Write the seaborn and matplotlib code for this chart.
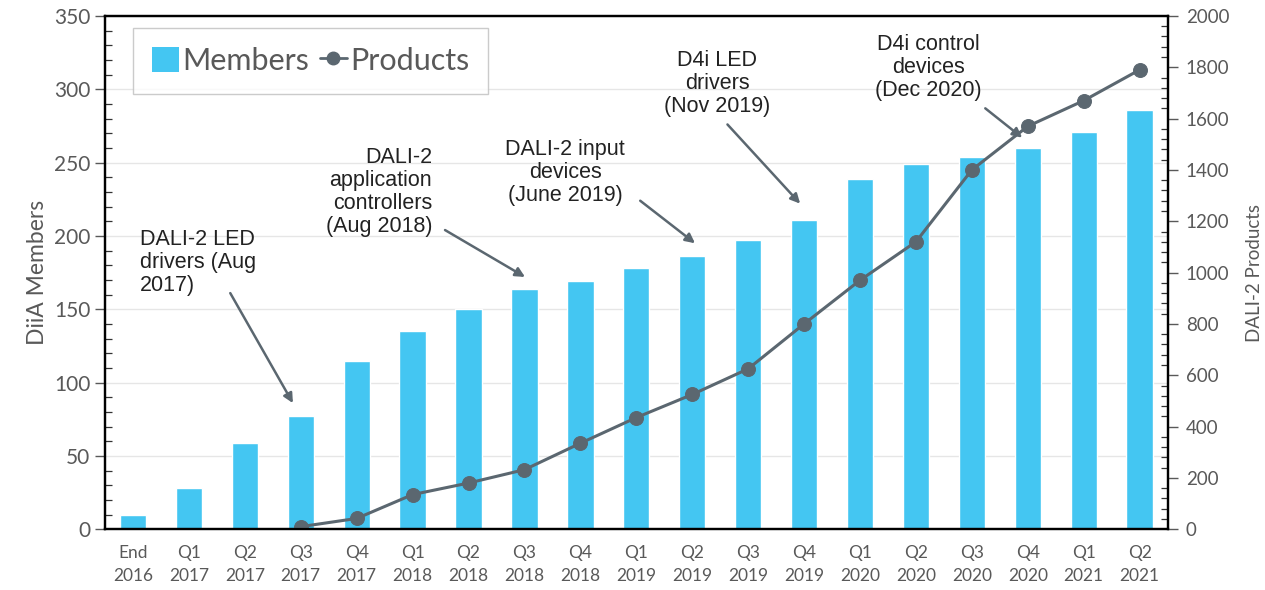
import pandas as pd
import numpy as np
import seaborn as sns
import matplotlib.pyplot as plt
from matplotlib.patches import Patch
from matplotlib.lines import Line2D
from matplotlib.ticker import MultipleLocator

# data
quarters = ["End\n2016", "Q1\n2017", "Q2\n2017", "Q3\n2017", "Q4\n2017",
            "Q1\n2018", "Q2\n2018", "Q3\n2018", "Q4\n2018",
            "Q1\n2019", "Q2\n2019", "Q3\n2019", "Q4\n2019",
            "Q1\n2020", "Q2\n2020", "Q3\n2020", "Q4\n2020",
            "Q1\n2021", "Q2\n2021"]
members = [10, 28, 59, 77, 115, 135, 150, 164, 169, 178, 186, 197, 211,
           239, 249, 254, 260, 271, 286]
product_quarters = quarters[3:]
products = [10, 42, 135, 180, 232, 335, 435, 525, 625, 800, 970, 1120,
            1400, 1570, 1670, 1790]

# annotations: text, text position (category idx, members units), arrow tail, arrow tip, alignment
notes = [
    ("DALI-2 LED\ndrivers (Aug\n2017)", (0.13, 182), (1.74, 161), (2.86, 86), "left"),
    ("DALI-2\napplication\ncontrollers\n(Aug 2018)", (5.35, 230), (5.58, 204), (7.01, 172), "right"),
    ("DALI-2 input\ndevices\n(June 2019)", (7.73, 243), (9.07, 224), (10.05, 195), "center"),
    ("D4i LED\ndrivers\n(Nov 2019)", (10.45, 304), (10.63, 276), (11.93, 222), "center"),
    ("D4i control\ndevices\n(Dec 2020)", (14.22, 315), (15.24, 287), (15.9, 267), "center"),
]

bar_color = "#44C6F2"
line_color = "#5B6770"
tick_color = "#595959"

sns.set_theme(style="white")
plt.rcParams['font.family'] = ['Lato', 'DejaVu Sans']

fig = plt.figure(figsize=(12.65, 5.9), dpi=100)
ax = fig.add_axes([0.083, 0.103, 0.840, 0.870])

df = pd.DataFrame({"quarter": quarters, "members": members})
sns.barplot(data=df, x="quarter", y="members", color=bar_color, saturation=1,
            width=0.47, ax=ax)

ax2 = ax.twinx()
pos = [quarters.index(q) for q in product_quarters]
sns.lineplot(x=pos, y=products, ax=ax2, color=line_color, marker="o",
             markersize=10, markeredgecolor=line_color, linewidth=2.2)

ax.set_xlim(-0.5, 18.5)
ax.set_ylim(0, 350)
ax2.set_ylim(0, 2000)

ax.yaxis.set_major_locator(MultipleLocator(50))
ax.yaxis.set_minor_locator(MultipleLocator(10))
ax2.yaxis.set_major_locator(MultipleLocator(200))
ax2.yaxis.set_minor_locator(MultipleLocator(40))
ax.grid(axis="y", which="major", color="#E6E6E6", linewidth=1)
ax.set_axisbelow(True)

ax.yaxis.set_tick_params(which="major", direction="out", length=7, width=1,
                         color=tick_color, labelsize=15, labelcolor=tick_color, left=True)
ax.yaxis.set_tick_params(which="minor", direction="in", length=5, width=0.9,
                         color="#333333", left=True)
ax2.yaxis.set_tick_params(which="major", direction="out", length=7, width=1, pad=6,
                          color=tick_color, labelsize=13.5, labelcolor=tick_color, right=True)
ax2.yaxis.set_tick_params(which="minor", direction="in", length=5, width=0.9,
                          color="#333333", right=True)
ax.tick_params(axis="x", length=0, labelsize=12.5, labelcolor=tick_color, pad=11)
for lab in ax.get_xticklabels():
    lab.set_linespacing(1.6)

for a in (ax, ax2):
    for s in a.spines.values():
        s.set_color("black")
        s.set_linewidth(1.6)

ax.set_xlabel("")
ax.set_ylabel("DiiA Members", fontsize=16.5, color=tick_color, labelpad=4)
ax2.set_ylabel("DALI-2 Products", fontsize=13.5, color=tick_color, labelpad=12)
ax2.set_xlabel("")

for text, tpos, tail, tip, ha in notes:
    ax.text(tpos[0], tpos[1], text, ha=ha, va="center", fontsize=15.5,
            family="Liberation Sans", color="#222222", linespacing=1.12, zorder=5)
    ax.annotate("", xy=tip, xytext=tail,
                arrowprops=dict(arrowstyle="-|>", color=line_color, lw=1.8,
                                mutation_scale=14, shrinkA=0, shrinkB=0), zorder=5)

handles = [Patch(facecolor=bar_color, edgecolor="none"),
           Line2D([0], [0], color=line_color, marker="o", markersize=9, linewidth=2)]
leg = ax2.legend(handles, ["Members", "Products"], loc="upper left",
                 bbox_to_anchor=(0.026, 0.977), borderaxespad=0, ncol=2,
                 fontsize=22, frameon=True, fancybox=False, handlelength=0.9,
                 handleheight=0.9, handletextpad=0.1, columnspacing=0.35,
                 borderpad=0.62, labelcolor=tick_color)
leg.get_frame().set_edgecolor("#BFBFBF")
leg.get_frame().set_linewidth(1)

fig.savefig("out.png", dpi=100)
